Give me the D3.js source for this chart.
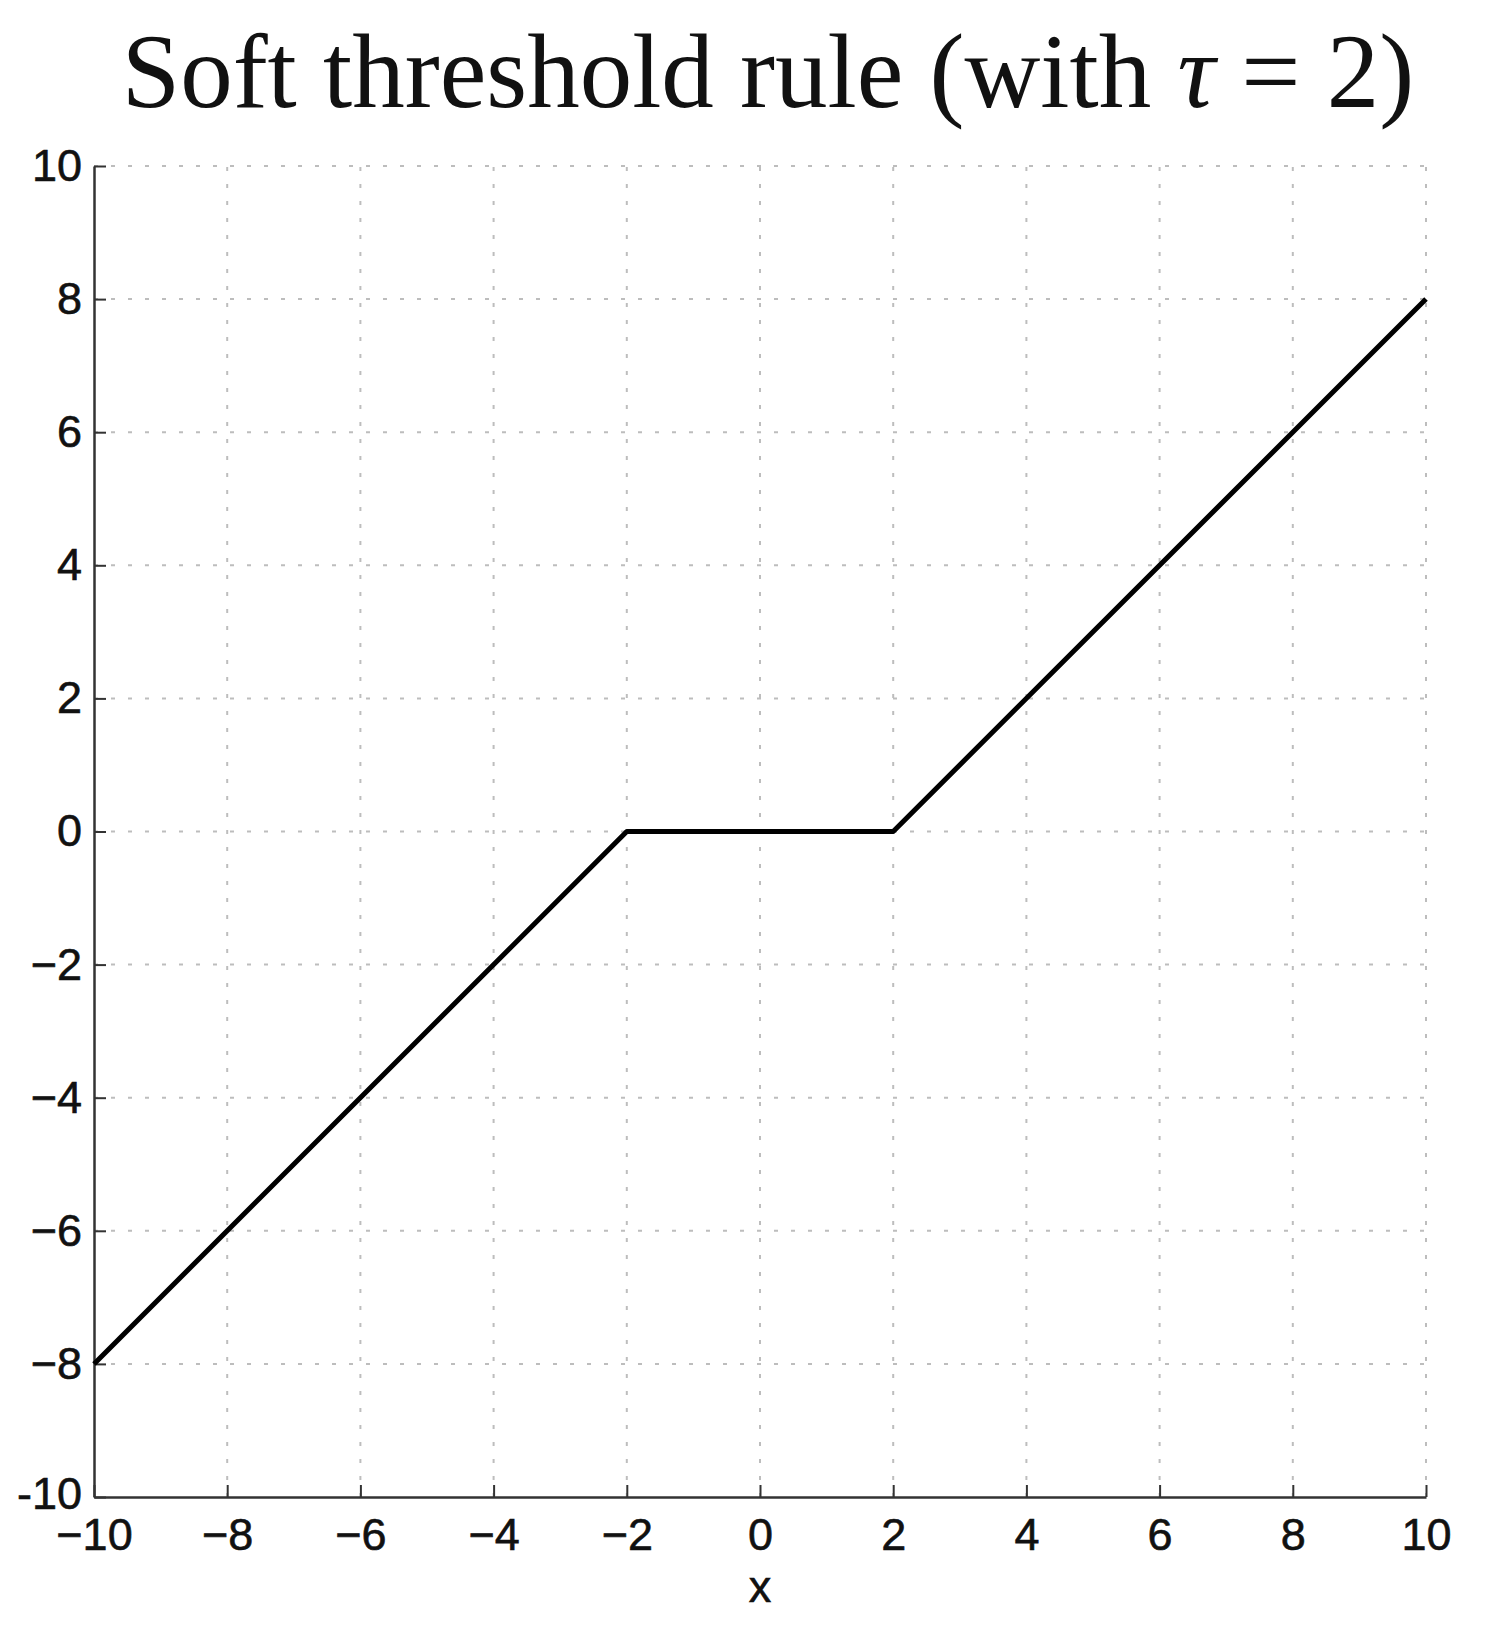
<!DOCTYPE html>
<html>
<head>
<meta charset="utf-8">
<script src="https://cdn.jsdelivr.net/npm/d3@7"></script>
<style>
  body { margin: 0; background: #fff; }
</style>
</head>
<body>
<div id="chart"></div>
<script>
// soft threshold, tau = 2
const xs = [-10, -2, 2, 10];
const ys = [-8, 0, 0, 8];
const xTicks = [-10, -8, -6, -4, -2, 0, 2, 4, 6, 8, 10];
const xTickLabels = ["\u221210", "\u22128", "\u22126", "\u22124", "\u22122", "0", "2", "4", "6", "8", "10"];
const yTicks = [-10, -8, -6, -4, -2, 0, 2, 4, 6, 8, 10];
const yTickLabels = ["-10", "\u22128", "\u22126", "\u22124", "\u22122", "0", "2", "4", "6", "8", "10"];

const width = 1487, height = 1631;
const margin = {top: 166, right: 61, bottom: 134, left: 94};

const svg = d3.select("#chart").append("svg")
    .attr("width", width)
    .attr("height", height);

const x = d3.scaleLinear().domain([-10, 10]).range([margin.left, width - margin.right]);
const y = d3.scaleLinear().domain([-10, 10]).range([height - margin.bottom, margin.top]);

// grid
const grid = svg.append("g").attr("stroke", "#bdbdbd").attr("stroke-width", 2)
    .attr("stroke-dasharray", "4,13");
grid.selectAll(".gx").data(xTicks.slice(1)).enter().append("line")
    .attr("x1", d => x(d)).attr("x2", d => x(d))
    .attr("y1", y(-10)).attr("y2", y(10));
grid.selectAll(".gy").data(yTicks.slice(1)).enter().append("line")
    .attr("x1", x(-10)).attr("x2", x(10))
    .attr("y1", d => y(d)).attr("y2", d => y(d));

// axes
const xAxis = d3.axisBottom(x).tickValues(xTicks)
    .tickFormat((d, i) => xTickLabels[i])
    .tickSizeInner(-12).tickSizeOuter(0).tickPadding(21);
const yAxis = d3.axisLeft(y).tickValues(yTicks)
    .tickFormat((d, i) => yTickLabels[i])
    .tickSizeInner(-12).tickSizeOuter(0).tickPadding(12);

const gx = svg.append("g").attr("transform", `translate(0,${y(-10)})`).call(xAxis);
const gy = svg.append("g").attr("transform", `translate(${x(-10)},0)`).call(yAxis);

[gx, gy].forEach(g => {
    g.select(".domain").attr("stroke", "#333").attr("stroke-width", 2.5);
    g.selectAll(".tick line").attr("stroke", "#333").attr("stroke-width", 2);
    g.selectAll(".tick text")
        .attr("fill", "#111")
        .attr("stroke", "#111")
        .attr("stroke-width", 0.6)
        .style("font-family", "Liberation Sans, Arial, sans-serif")
        .style("font-size", "45px");
});
gx.selectAll(".tick text").attr("dy", "0.71em");
gy.selectAll(".tick text").filter(d => d === -10).attr("dy", "0.25em");

// line
const line = d3.line().x((d, i) => x(xs[i])).y(d => y(d));
svg.append("path")
    .datum(ys)
    .attr("d", line)
    .attr("fill", "none")
    .attr("stroke", "#000")
    .attr("stroke-width", 5)
    .attr("stroke-linejoin", "round");

// title
svg.append("text")
    .attr("x", 768)
    .attr("y", 107)
    .attr("text-anchor", "middle")
    .style("font-family", "Liberation Serif, Times New Roman, serif")
    .style("font-size", "105px")
    .attr("fill", "#111")
    .html("Soft threshold rule (with <tspan font-style='italic'>\u03c4</tspan> = 2)");

// x label
svg.append("text")
    .attr("x", x(0))
    .attr("y", 1602)
    .attr("text-anchor", "middle")
    .style("font-family", "Liberation Sans, Arial, sans-serif")
    .style("font-size", "45px")
    .attr("fill", "#111")
    .attr("stroke", "#111")
    .attr("stroke-width", 0.6)
    .text("x");
</script>
</body>
</html>
